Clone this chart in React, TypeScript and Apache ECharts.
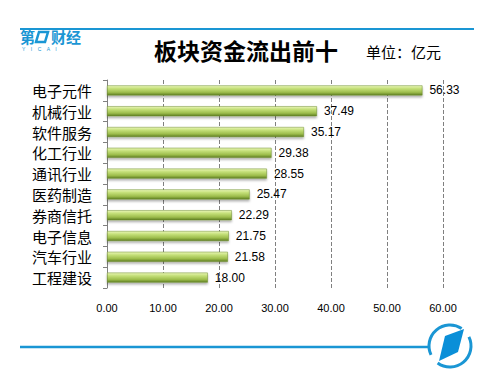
import React, { useEffect, useRef } from "react";
import * as echarts from "echarts";

const categories = ["电子元件", "机械行业", "软件服务", "化工行业", "通讯行业", "医药制造", "券商信托", "电子信息", "汽车行业", "工程建设"];
const values = [56.33, 37.49, 35.17, 29.38, 28.55, 25.47, 22.29, 21.75, 21.58, 18.0];
const titleText = "板块资金流出前十";
const unitText = "单位：亿元";

const BLUE = "#1a96d4";

export default function App() {
  const ref = useRef<HTMLDivElement>(null);
  useEffect(() => {
    const chart = echarts.init(ref.current!, undefined, { renderer: "svg" });
    chart.setOption({
      animation: false,
      backgroundColor: "#fff",
      grid: { left: 107, right: 59, top: 80, bottom: 100 },
      xAxis: {
        type: "value",
        min: 0,
        max: 60,
        interval: 10,
        axisLine: { show: false },
        axisTick: { show: false },
        axisLabel: {
          formatter: (v: number) => v.toFixed(2),
          fontSize: 11,
          color: "#000",
          fontFamily: "Arial, Liberation Sans, sans-serif",
          margin: 14,
        },
        splitLine: { show: true, lineStyle: { type: "dashed", color: "#808080", width: 1 } },
      },
      yAxis: {
        type: "category",
        data: categories,
        inverse: true,
        axisLine: { show: true, lineStyle: { color: "#808080" } },
        axisTick: { show: true, length: 4, lineStyle: { color: "#808080" } },
        axisLabel: {
          interval: 0,
          fontSize: 15,
          lineHeight: 16,
          color: "#000",
          fontFamily: "Noto Sans CJK SC, sans-serif",
          margin: 15,
        },
      },
      series: [
        {
          type: "bar",
          data: values,
          barWidth: 10,
          itemStyle: {
            color: new echarts.graphic.LinearGradient(0, 0, 0, 1, [
              { offset: 0, color: "#eaf6b8" },
              { offset: 0.3, color: "#c5e07a" },
              { offset: 0.7, color: "#9dbd4c" },
              { offset: 1, color: "#5f7e22" },
            ]),
            borderColor: "#6d8c2c",
            borderWidth: 0.5,
            shadowColor: "rgba(0,0,0,0.3)",
            shadowBlur: 2,
            shadowOffsetY: 2,
          },
          label: {
            show: true,
            position: "right",
            distance: 7,
            fontSize: 12,
            color: "#000",
            fontFamily: "Arial, Liberation Sans, sans-serif",
            formatter: (p: any) => Number(p.value).toFixed(2),
          },
        },
      ],
      graphic: [
        { type: "line", shape: { x1: 20, y1: 29, x2: 474, y2: 29 }, style: { stroke: BLUE, lineWidth: 2 } },
        { type: "rect", shape: { x: 18, y: 30, width: 72, height: 20 }, style: { fill: "#fff" } },
        { type: "text", x: 20, y: 29, style: { text: "第", fontSize: 15, lineHeight: 15, fontWeight: "bold", fill: BLUE, fontFamily: "Noto Sans CJK SC" } },
        { type: "polygon", shape: { points: [[39, 32], [48, 32], [45, 42], [36, 42]] }, style: { fill: "none", stroke: BLUE, lineWidth: 2.5 } },
        { type: "text", x: 51, y: 29, style: { text: "财经", fontSize: 15, lineHeight: 15, fontWeight: "bold", fill: BLUE, fontFamily: "Noto Sans CJK SC" } },
        { type: "text", x: 22, y: 46, style: { text: "Y    I    C    A    I", fontSize: 5, lineHeight: 5, fill: BLUE, fontFamily: "Arial" } },
        {
          type: "text",
          x: 246,
          y: 38,
          style: { text: titleText, fontSize: 23, fontWeight: "bold", fill: "#000", fontFamily: "Noto Sans CJK SC", textAlign: "center" },
        },
        { type: "text", x: 366, y: 44, style: { text: unitText, fontSize: 15, fill: "#000", fontFamily: "Noto Sans CJK SC" } },
        { type: "line", shape: { x1: 20, y1: 347, x2: 428, y2: 347 }, style: { stroke: BLUE, lineWidth: 2.5 } },
        { type: "arc", shape: { cx: 450, cy: 346, r: 21, startAngle: -0.45, endAngle: 2.2, clockwise: true }, style: { stroke: BLUE, lineWidth: 3, fill: "none" } },
        { type: "arc", shape: { cx: 450, cy: 346, r: 21, startAngle: 2.7, endAngle: 5.3, clockwise: true }, style: { stroke: BLUE, lineWidth: 3, fill: "none" } },
        { type: "polygon", shape: { points: [[445, 336], [464, 329], [458, 352], [439, 361]] }, style: { fill: "#0a8fd8" } },
      ],
    });
    return () => chart.dispose();
  }, []);
  return <div ref={ref} style={{ width: 502, height: 388, position: "absolute", left: 0, top: 0 }} />;
}
